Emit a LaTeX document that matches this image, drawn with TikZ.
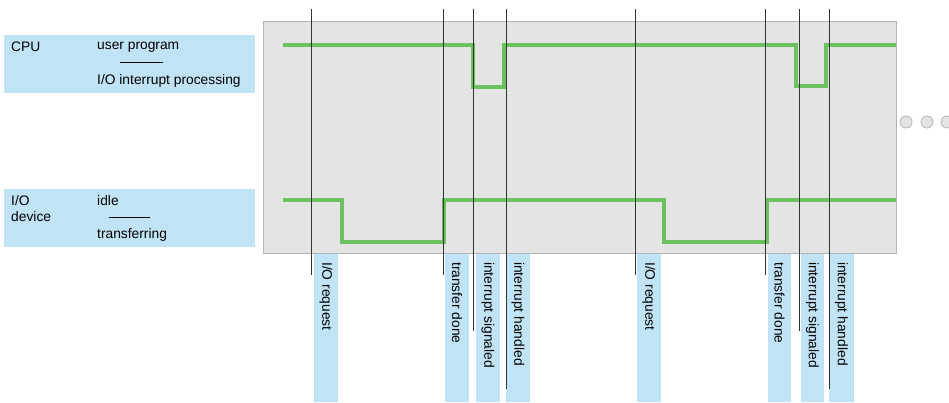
\documentclass[tikz,border=0pt]{standalone}
\usepackage{fontspec}
\setmainfont{Liberation Sans}
\definecolor{lblue}{HTML}{C0E4F6}
\definecolor{boxgray}{HTML}{E4E4E4}
\definecolor{boxedge}{HTML}{B4B4B4}
\definecolor{sig}{HTML}{6CC160}
\definecolor{tick}{HTML}{333333}
\tikzset{
  lbl/.style={font=\fontsize{13.8}{15}\selectfont, inner sep=0pt, anchor=west},
  signal/.style={draw=sig, line width=3.2pt, line join=miter},
  marker/.style={draw=tick, line width=0.9pt},
  striptext/.style={font=\fontsize{13.8}{15}\selectfont, rotate=-90, anchor=west, inner sep=0pt},
  dot/.style={circle, draw=boxedge, fill=boxgray, line width=0.8pt, minimum size=12pt, inner sep=0pt}
}
\begin{document}
\begin{tikzpicture}[x=1pt,y=-1pt]
\useasboundingbox (0,0) rectangle (949,403);
% left legend boxes
\fill[lblue] (4,35) rectangle (255,93);
\fill[lblue] (4,189) rectangle (255,247);
\node[lbl] (cpu) at (11,47) {CPU};
\node[lbl] (up) at (97,47) {user program};
\draw[line width=1pt] (120,63) coordinate (cl1) -- (163,63) coordinate (cl2);
\node[lbl] (iop) at (97,81) {I/O interrupt processing};
\node[lbl] (io1) at (11,201) {I/O};
\node[lbl] (io2) at (11,217) {device};
\node[lbl] (idle) at (97,201) {idle};
\draw[line width=1pt] (109,218) coordinate (il1) -- (150,218) coordinate (il2);
\node[lbl] (tr) at (97,235) {transferring};
% main box
\draw[fill=boxgray, draw=boxedge, line width=1pt] (263,22) rectangle (896,253);
% label strips
\foreach \a/\b in {314/338,445/469,476/500,506/530,637/661,768/791,801/824,829/854}
  \fill[lblue] (\a,254) rectangle (\b,402);
\node[striptext] (s1) at (326,262) {I/O request};
\node[striptext] (s2) at (457,262) {transfer done};
\node[striptext] (s3) at (488,262) {interrupt signaled};
\node[striptext] (s4) at (518,262) {interrupt handled};
\node[striptext] (s5) at (649,262) {I/O request};
\node[striptext] (s6) at (779.5,262) {transfer done};
\node[striptext] (s7) at (812.5,262) {interrupt signaled};
\node[striptext] (s8) at (841.5,262) {interrupt handled};
% signals
\draw[signal] (283,45) -- (473,45) -- (473,87) -- (504,87) -- (504,45) -- (796,45) -- (796,86) -- (826,86) -- (826,45) -- (896,45);
\draw[signal] (283,200) -- (342,200) -- (342,242) -- (444,242) -- (444,200) -- (664,200) -- (664,242) -- (767,242) -- (767,200) -- (896,200);
% event markers
\draw[marker] (311,9) -- (311,275);
\draw[marker] (443,9) -- (443,275);
\draw[marker] (473,9) -- (473,331);
\draw[marker] (506,9) -- (506,389);
\draw[marker] (635,9) -- (635,275);
\draw[marker] (765,9) -- (765,275);
\draw[marker] (799,9) -- (799,331);
\draw[marker] (829,9) -- (829,389);
% ellipsis
\node[dot] (d1) at (906,122) {};
\node[dot] (d2) at (927,122) {};
\node[dot] (d3) at (947,122) {};
\end{tikzpicture}
\end{document}
